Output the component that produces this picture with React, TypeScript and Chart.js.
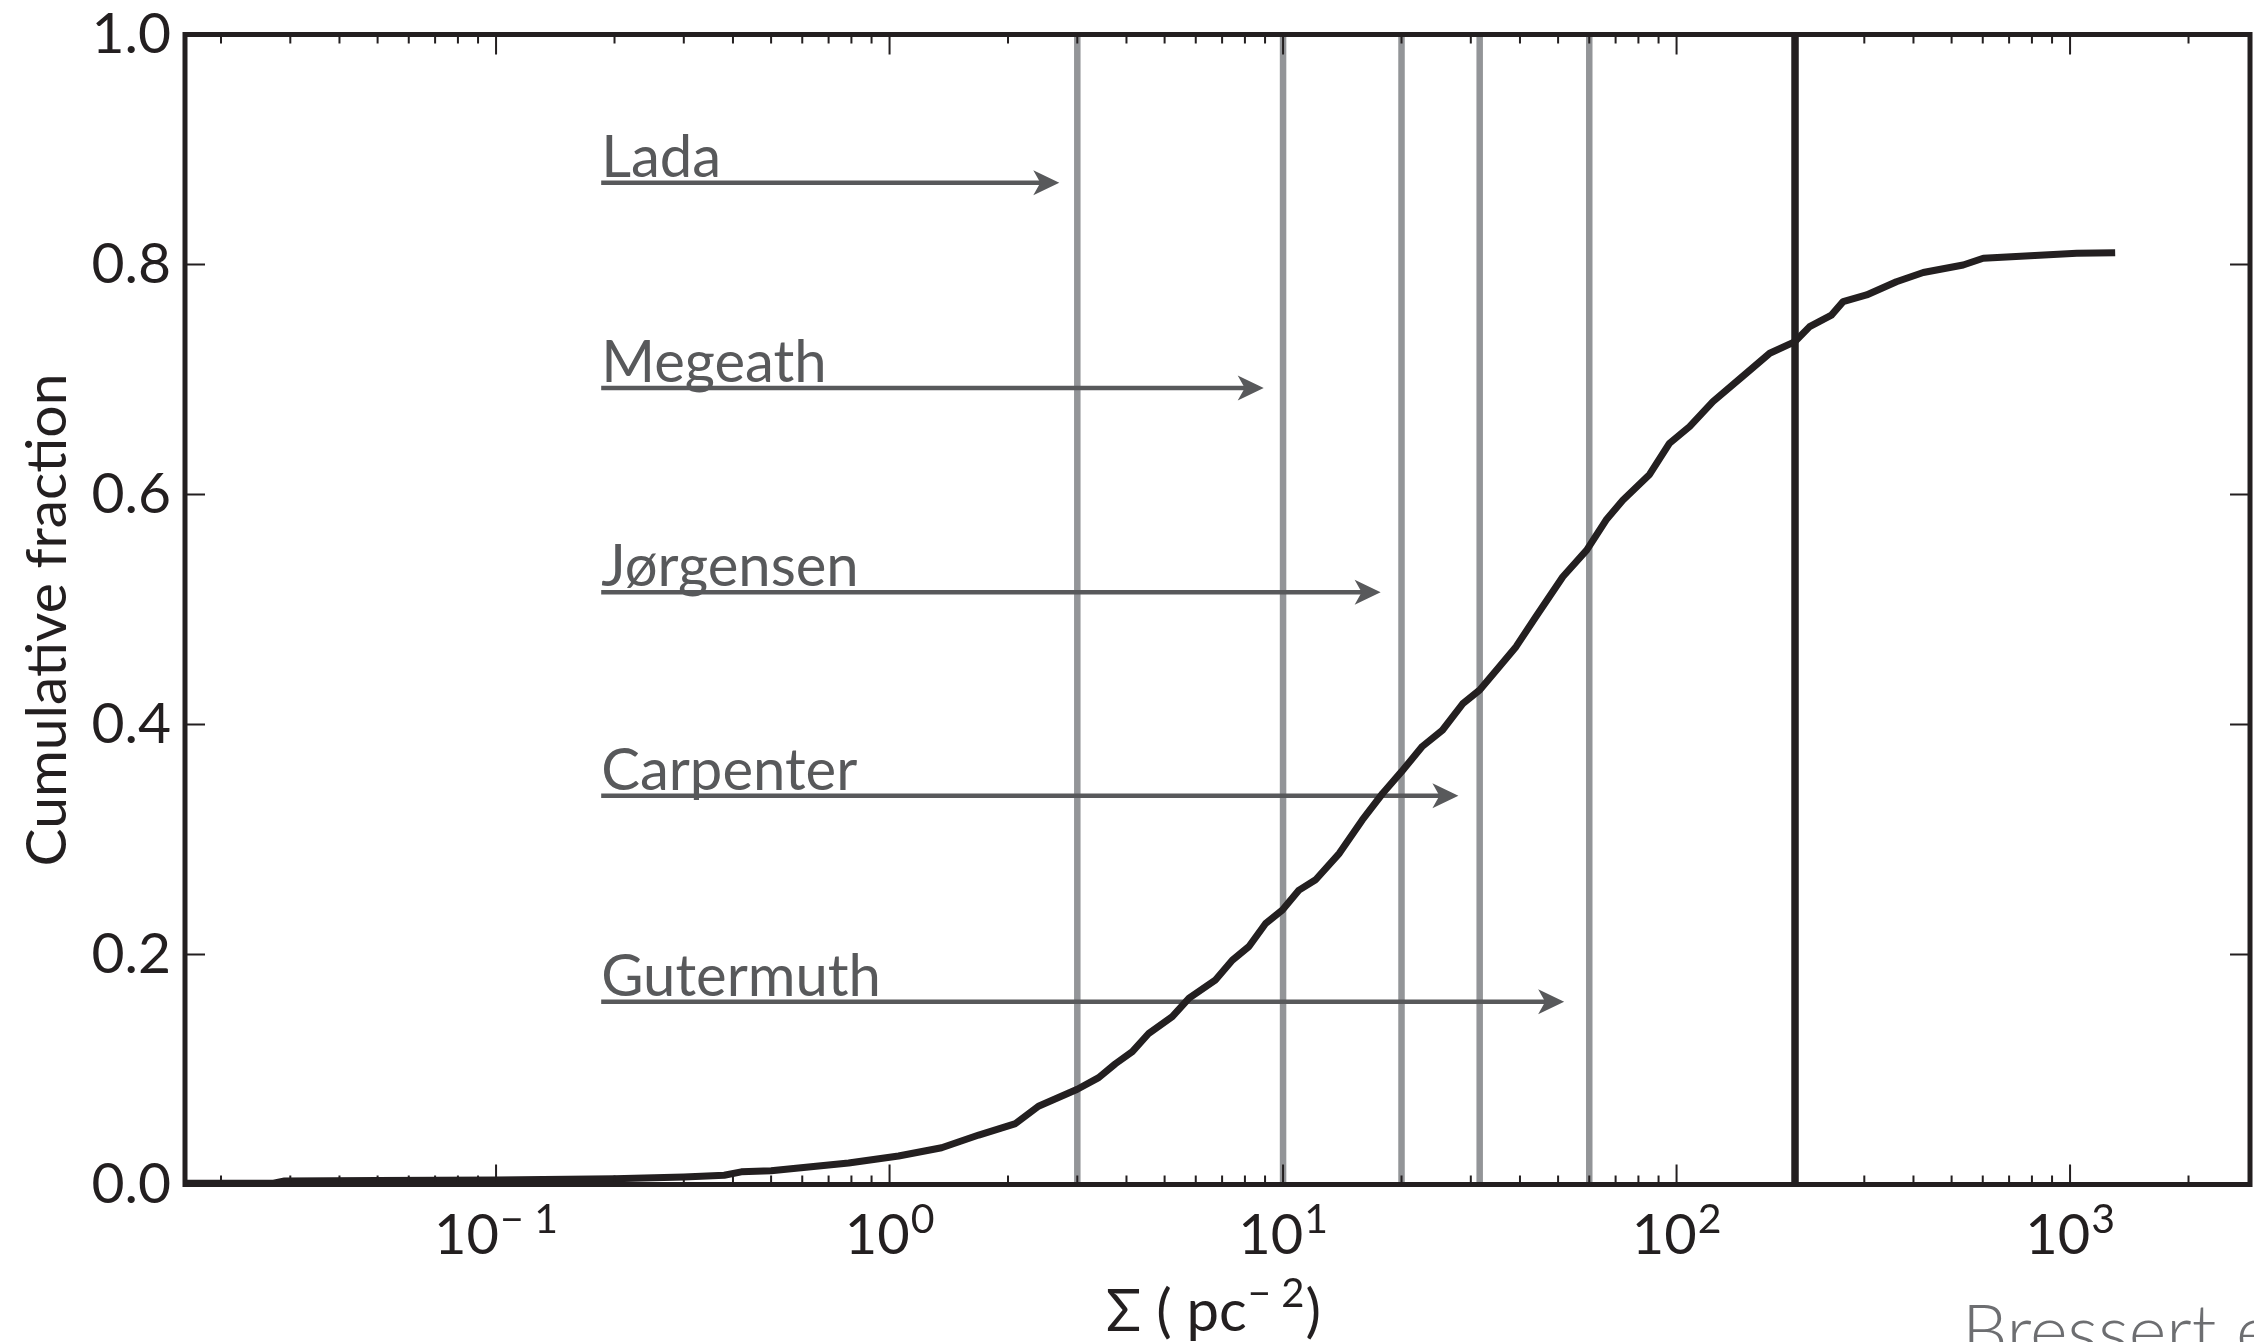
import React, { useEffect, useRef } from "react";
import { Chart, registerables } from "chart.js";

Chart.register(...registerables);

const W = 2254;
const H = 1342;
const FF = "Lato, 'Open Sans', 'DejaVu Sans', sans-serif";

// cumulative distribution
const curveX = [
  0.0162, 0.027, 0.029, 0.05, 0.1, 0.2, 0.3, 0.38, 0.42, 0.5, 0.587, 0.787, 1.054, 1.356, 1.685,
  2.09, 2.39, 3.0, 3.4, 3.75, 4.14, 4.56, 5.23, 5.77, 6.74, 7.43, 8.19, 9.03, 9.96, 10.98, 12.1,
  13.9, 15.9, 17.9, 20.0, 22.6, 25.4, 28.6, 31.6, 35.4, 39.1, 43.9, 51.4, 59.1, 66.2, 73.0, 85.4,
  95.9, 107.9, 123.7, 150.4, 172.5, 200, 217.9, 247.5, 265, 304, 362, 423.6, 535, 601.7, 1040, 1302,
];
const curveY = [
  0.001, 0.001, 0.003, 0.0035, 0.004, 0.005, 0.0065, 0.008, 0.011, 0.012, 0.0143, 0.0187, 0.0248,
  0.032, 0.043, 0.053, 0.068, 0.0828, 0.0929, 0.105, 0.1155, 0.1315, 0.146, 0.162, 0.178, 0.195,
  0.207, 0.227, 0.2387, 0.256, 0.265, 0.288, 0.317, 0.34, 0.359, 0.381, 0.395, 0.418, 0.43, 0.45,
  0.4677, 0.4937, 0.5285, 0.5517, 0.5778, 0.595, 0.6174, 0.6445, 0.659, 0.6807, 0.7054, 0.7228,
  0.733, 0.746, 0.756, 0.7677, 0.7735, 0.785, 0.793, 0.7996, 0.8054, 0.8097, 0.8103,
];

// vertical reference lines
const grayLineX = [3, 10, 20, 31.6, 60];
const blackLineX = [200];

// arrows with survey labels
const arrowLabels = ["Lada", "Megeath", "Jørgensen", "Carpenter", "Gutermuth"];
const arrowY = [0.871, 0.6926, 0.515, 0.338, 0.159];
const arrowEndX = [2.7, 8.93, 17.7, 27.9, 51.8];
const arrowStartX = 0.185;

// axes
const xMin = 0.0162;
const xMax = 2866;
const yTickValues = [0.2, 0.4, 0.6, 0.8];
const xDecades = [-1, 0, 1, 2, 3];
const xTickBase = ["10", "10", "10", "10", "10"];
const xTickSup = ["\u2212 1", "0", "1", "2", "3"];

const INK = "#231f20";
const GRAY = "#939598";
const ARROW = "#58595b";

const annotPlugin = {
  id: "annot",
  afterDatasetDraw(chart: any, args: any) {
    if (args.index !== 1) return;
    const ctx = chart.ctx;
    const xs = chart.scales.x;
    const ys = chart.scales.y;
    ctx.save();
    for (let i = 0; i < arrowLabels.length; i++) {
      const y = ys.getPixelForValue(arrowY[i]);
      const x0 = xs.getPixelForValue(arrowStartX);
      const x1 = xs.getPixelForValue(arrowEndX[i]);
      ctx.strokeStyle = ARROW;
      ctx.fillStyle = ARROW;
      ctx.lineWidth = 4.5;
      ctx.beginPath();
      ctx.moveTo(x0, y);
      ctx.lineTo(x1 - 18, y);
      ctx.stroke();
      ctx.beginPath();
      ctx.moveTo(x1, y);
      ctx.lineTo(x1 - 26, y - 12.5);
      ctx.lineTo(x1 - 19, y);
      ctx.lineTo(x1 - 26, y + 12.5);
      ctx.closePath();
      ctx.fill();
      ctx.font = `58px ${FF}`;
      ctx.textAlign = "left";
      ctx.textBaseline = "alphabetic";
      ctx.fillText(arrowLabels[i], x0, y - 6);
    }
    ctx.restore();
  },
  afterDatasetsDraw(chart: any) {
    const ctx = chart.ctx;
    const xs = chart.scales.x;
    const ca = chart.chartArea;
    ctx.save();
    // ticks
    ctx.strokeStyle = INK;
    ctx.lineWidth = 2;
    ctx.beginPath();
    for (let k = -2; k <= 3; k++) {
      for (let m = 1; m <= 9; m++) {
        const v = m * Math.pow(10, k);
        if (v < xMin || v > xMax) continue;
        const px = xs.getPixelForValue(v);
        const len = m === 1 ? 20 : 9;
        ctx.moveTo(px, ca.bottom);
        ctx.lineTo(px, ca.bottom - len);
        ctx.moveTo(px, ca.top);
        ctx.lineTo(px, ca.top + len);
      }
    }
    const ys = chart.scales.y;
    for (const v of yTickValues) {
      const py = ys.getPixelForValue(v);
      ctx.moveTo(ca.left, py);
      ctx.lineTo(ca.left + 20, py);
      ctx.moveTo(ca.right, py);
      ctx.lineTo(ca.right - 20, py);
    }
    ctx.stroke();
    // frame
    ctx.lineWidth = 5;
    ctx.strokeRect(ca.left, ca.top, ca.right - ca.left, ca.bottom - ca.top);

    // x tick labels with superscripts
    ctx.fillStyle = INK;
    ctx.textBaseline = "alphabetic";
    ctx.textAlign = "left";
    const baseY = ca.bottom + 69;
    for (let i = 0; i < xDecades.length; i++) {
      const px = xs.getPixelForValue(Math.pow(10, xDecades[i]));
      ctx.font = `56px ${FF}`;
      const wb = ctx.measureText(xTickBase[i]).width;
      ctx.font = `41px ${FF}`;
      const wsup = ctx.measureText(xTickSup[i]).width;
      const x0 = px - (wb + wsup + 1) / 2;
      ctx.font = `56px ${FF}`;
      ctx.fillText(xTickBase[i], x0, baseY);
      ctx.font = `41px ${FF}`;
      ctx.fillText(xTickSup[i], x0 + wb + 1, baseY - 21);
    }

    // x axis title: Σ ( pc^-2 )
    const tY = ca.bottom + 146;
    const part1 = "\u03a3 ( pc";
    const part2 = "\u2212 2";
    const part3 = ")";
    ctx.font = `58px ${FF}`;
    const w1 = ctx.measureText(part1).width;
    const w3 = ctx.measureText(part3).width;
    ctx.font = `40px ${FF}`;
    const w2 = ctx.measureText(part2).width;
    const total = w1 + w2 + w3 + 2;
    let tx = (ca.left + ca.right) / 2 - total / 2 - 4;
    ctx.font = `58px ${FF}`;
    ctx.fillText(part1, tx, tY);
    tx += w1 + 1;
    ctx.font = `40px ${FF}`;
    ctx.fillText(part2, tx, tY - 24);
    tx += w2 + 1;
    ctx.font = `58px ${FF}`;
    ctx.fillText(part3, tx, tY);

    // y axis title
    ctx.save();
    ctx.translate(66, 620);
    ctx.rotate(-Math.PI / 2);
    ctx.textAlign = "center";
    ctx.font = `57px ${FF}`;
    ctx.fillText("Cumulative fraction", 0, 0);
    ctx.restore();

    // credit (cut by page bottom)
    ctx.fillStyle = "#6d6e71";
    ctx.textAlign = "left";
    ctx.font = `300 72px ${FF}`;
    ctx.fillText("Bressert et al. (2010)", 1962, 1357);
    ctx.restore();
  },
};

export default function App() {
  const ref = useRef<HTMLCanvasElement | null>(null);
  useEffect(() => {
    if (!ref.current) return;
    const curveData = curveX.map((x, i) => ({ x, y: curveY[i] }));
    const vline = (x: number) => [
      { x, y: 0 },
      { x, y: 1 },
    ];
    const datasets: any[] = [
      {
        data: curveData,
        borderColor: INK,
        borderWidth: 7,
        pointRadius: 0,
        tension: 0,
        borderJoinStyle: "round",
        clip: false,
      },
      ...blackLineX.map((x) => ({
        data: vline(x),
        borderColor: INK,
        borderWidth: 7.5,
        pointRadius: 0,
      })),
      ...grayLineX.map((x) => ({
        data: vline(x),
        borderColor: GRAY,
        borderWidth: 6.5,
        pointRadius: 0,
      })),
    ];
    const chart = new Chart(ref.current, {
      type: "line",
      data: { datasets },
      options: {
        responsive: false,
        animation: false,
        events: [],
        parsing: false,
        layout: { padding: { top: 34.5, right: 4, left: 0, bottom: 0 } },
        plugins: { legend: { display: false }, tooltip: { enabled: false } },
        scales: {
          x: {
            type: "logarithmic",
            min: xMin,
            max: xMax,
            grid: { display: false, drawTicks: false },
            border: { display: false },
            ticks: { display: false },
            afterFit: (s: any) => {
              s.height = 157.5;
              s.paddingLeft = 0;
              s.paddingRight = 0;
            },
          },
          y: {
            type: "linear",
            min: 0,
            max: 1,
            grid: { display: false, drawTicks: false },
            border: { display: false },
            ticks: {
              stepSize: 0.2,
              callback: (v: any) => Number(v).toFixed(1),
              font: { family: FF, size: 57 },
              color: INK,
              padding: 14,
            },
            afterFit: (s: any) => {
              s.width = 185;
              s.paddingTop = 0;
              s.paddingBottom = 0;
            },
          },
        },
      } as any,
      plugins: [annotPlugin],
    } as any);
    return () => chart.destroy();
  }, []);
  return (
    <div style={{ position: "absolute", left: 0, top: 0, width: W, height: H, background: "#fff", overflow: "hidden" }}>
      <canvas ref={ref} width={W} height={H} style={{ display: "block", width: W, height: H }} />
    </div>
  );
}
